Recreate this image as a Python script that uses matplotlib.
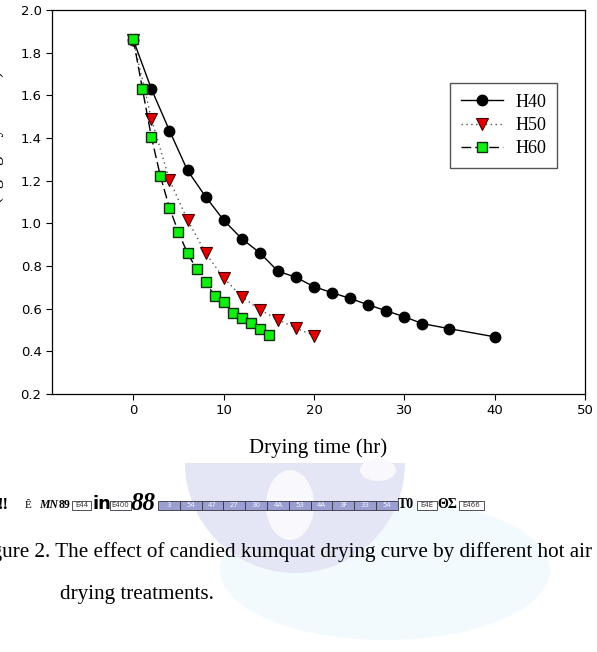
import matplotlib
matplotlib.use("Agg")
import matplotlib.pyplot as plt
from matplotlib.patches import Ellipse, Wedge, Rectangle

# drying time (hr) and moisture content
t40 = [0, 2, 4, 6, 8, 10, 12, 14, 16, 18, 20, 22, 24, 26, 28, 30, 32, 35, 40]
h40 = [1.86, 1.63, 1.435, 1.248, 1.125, 1.015, 0.928, 0.862, 0.776, 0.747,
       0.703, 0.675, 0.648, 0.618, 0.59, 0.562, 0.53, 0.506, 0.468]

t50 = [0, 2, 4, 6, 8, 10, 12, 14, 16, 18, 20]
h50 = [1.86, 1.49, 1.204, 1.016, 0.861, 0.744, 0.657, 0.595, 0.549, 0.509, 0.474]

t60 = [0, 1, 2, 3, 4, 5, 6, 7, 8, 9, 10, 11, 12, 13, 14, 15]
h60 = [1.862, 1.632, 1.405, 1.221, 1.073, 0.958, 0.86, 0.786, 0.723, 0.661,
       0.633, 0.582, 0.554, 0.532, 0.504, 0.476]

xticks = [0, 10, 20, 30, 40, 50]
yticks = [0.2, 0.4, 0.6, 0.8, 1.0, 1.2, 1.4, 1.6, 1.8, 2.0]

serif = "Liberation Serif"
W, H = 597, 652

fig = plt.figure(figsize=(W / 100, H / 100), dpi=100)

# background layer in pixel units: watermark + garbled caption row
bg = fig.add_axes([0, 0, 1, 1], zorder=-1)
bg.set_xlim(0, W)
bg.set_ylim(H, 0)
bg.axis("off")
bg.add_patch(Ellipse((385, 570), 330, 140, facecolor="#f2fafd", edgecolor="none"))
bg.add_patch(Wedge((295, 463), 110, 0, 180, facecolor="#e4e6f6", edgecolor="none"))
bg.add_patch(Ellipse((290, 505), 48, 70, facecolor="#f8f8fd", edgecolor="none"))
bg.add_patch(Ellipse((378, 470), 36, 22, facecolor="#f8f8fd", edgecolor="none"))

y1 = 505


def tofu(x, w, label, fill="white", tc="#333333"):
    bg.add_patch(Rectangle((x, y1 - 4.5), w, 9, facecolor=fill,
                           edgecolor="#333340", lw=0.6))
    bg.text(x + w / 2, y1, label, fontsize=5, ha="center", va="center", color=tc)


bg.text(-2, y1, "!!", family=serif, fontsize=12, weight="bold", va="center")
bg.text(25, y1, "Ê", family=serif, fontsize=8, va="center")
bg.text(39, y1, "MN", family=serif, fontsize=8.5, weight="bold", style="italic",
        va="center")
bg.text(59, y1, "89", family=serif, fontsize=8.5, weight="bold", va="center")
tofu(72, 19, "E44")
bg.text(92, y1 - 1, "in", fontsize=13, weight="bold", va="center")
tofu(110, 21, "E400")
bg.text(131, y1 - 2, "88", family=serif, fontsize=18, weight="bold",
        style="italic", va="center")
codes = ["3", "54", "47", "27", "30", "4A", "53", "4A", "3F", "33", "54"]
x = 158
for c in codes:
    tofu(x, 21.8, c, fill="#9a9ed0", tc="#f4f4ff")
    x += 21.8
bg.text(398, y1 - 1, "T0", family=serif, fontsize=10, weight="bold", va="center")
tofu(417, 20, "E4E")
bg.text(437, y1 - 1, "ΘΣ", family=serif, fontsize=10, weight="bold", va="center")
tofu(459, 25, "E466")

ax = fig.add_axes([52 / W, 1 - 394 / H, 533 / W, 384 / H])
ax.plot(t40, h40, color="black", lw=1.0, marker="o", ms=7.5,
        mfc="black", mec="black", label="H40")
ax.plot(t50, h50, color="#555555", lw=1.0, ls=(0, (1, 2.5)), marker="v", ms=8,
        mfc="#e00000", mec="#400000", mew=0.8, label="H50")
ax.plot(t60, h60, color="black", lw=1.0, ls=(0, (7, 3)), marker="s", ms=7.5,
        mfc="#11ee11", mec="#103010", mew=1.0, label="H60")

ax.set_xlim(-9, 50)
ax.set_ylim(0.2, 2.0)
ax.set_xticks(xticks)
ax.set_yticks(yticks)
ax.set_yticklabels(["%.1f" % v for v in yticks])
ax.tick_params(direction="out", labelsize=9.5, length=4, width=0.8)
for s in ax.spines.values():
    s.set_linewidth(0.9)

leg = ax.legend(loc="upper left", bbox_to_anchor=(0.747, 0.81), frameon=True,
                fancybox=False, edgecolor="#555555", framealpha=1,
                prop={"family": serif, "size": 13}, handlelength=2.3,
                handletextpad=0.7, labelspacing=0.35, borderpad=0.6,
                borderaxespad=0)
leg.get_frame().set_linewidth(1.0)

fig.text(318 / W, 1 - 448 / H, "Drying time (hr)", family=serif, fontsize=15,
         ha="center", va="center")
fig.text(-0.022, 1 - 200 / H, "Moisture content (kg/kg dry matter)", family=serif,
         fontsize=13, rotation=90, ha="left", va="center")

fig.text(592 / W, 1 - 552 / H,
         "Figure 2. The effect of candied kumquat drying curve by different hot air",
         family=serif, fontsize=15.2, ha="right", va="center")
fig.text(60 / W, 1 - 594 / H, "drying treatments.", family=serif, fontsize=15.2,
         ha="left", va="center")

fig.savefig("out.png", dpi=100)
